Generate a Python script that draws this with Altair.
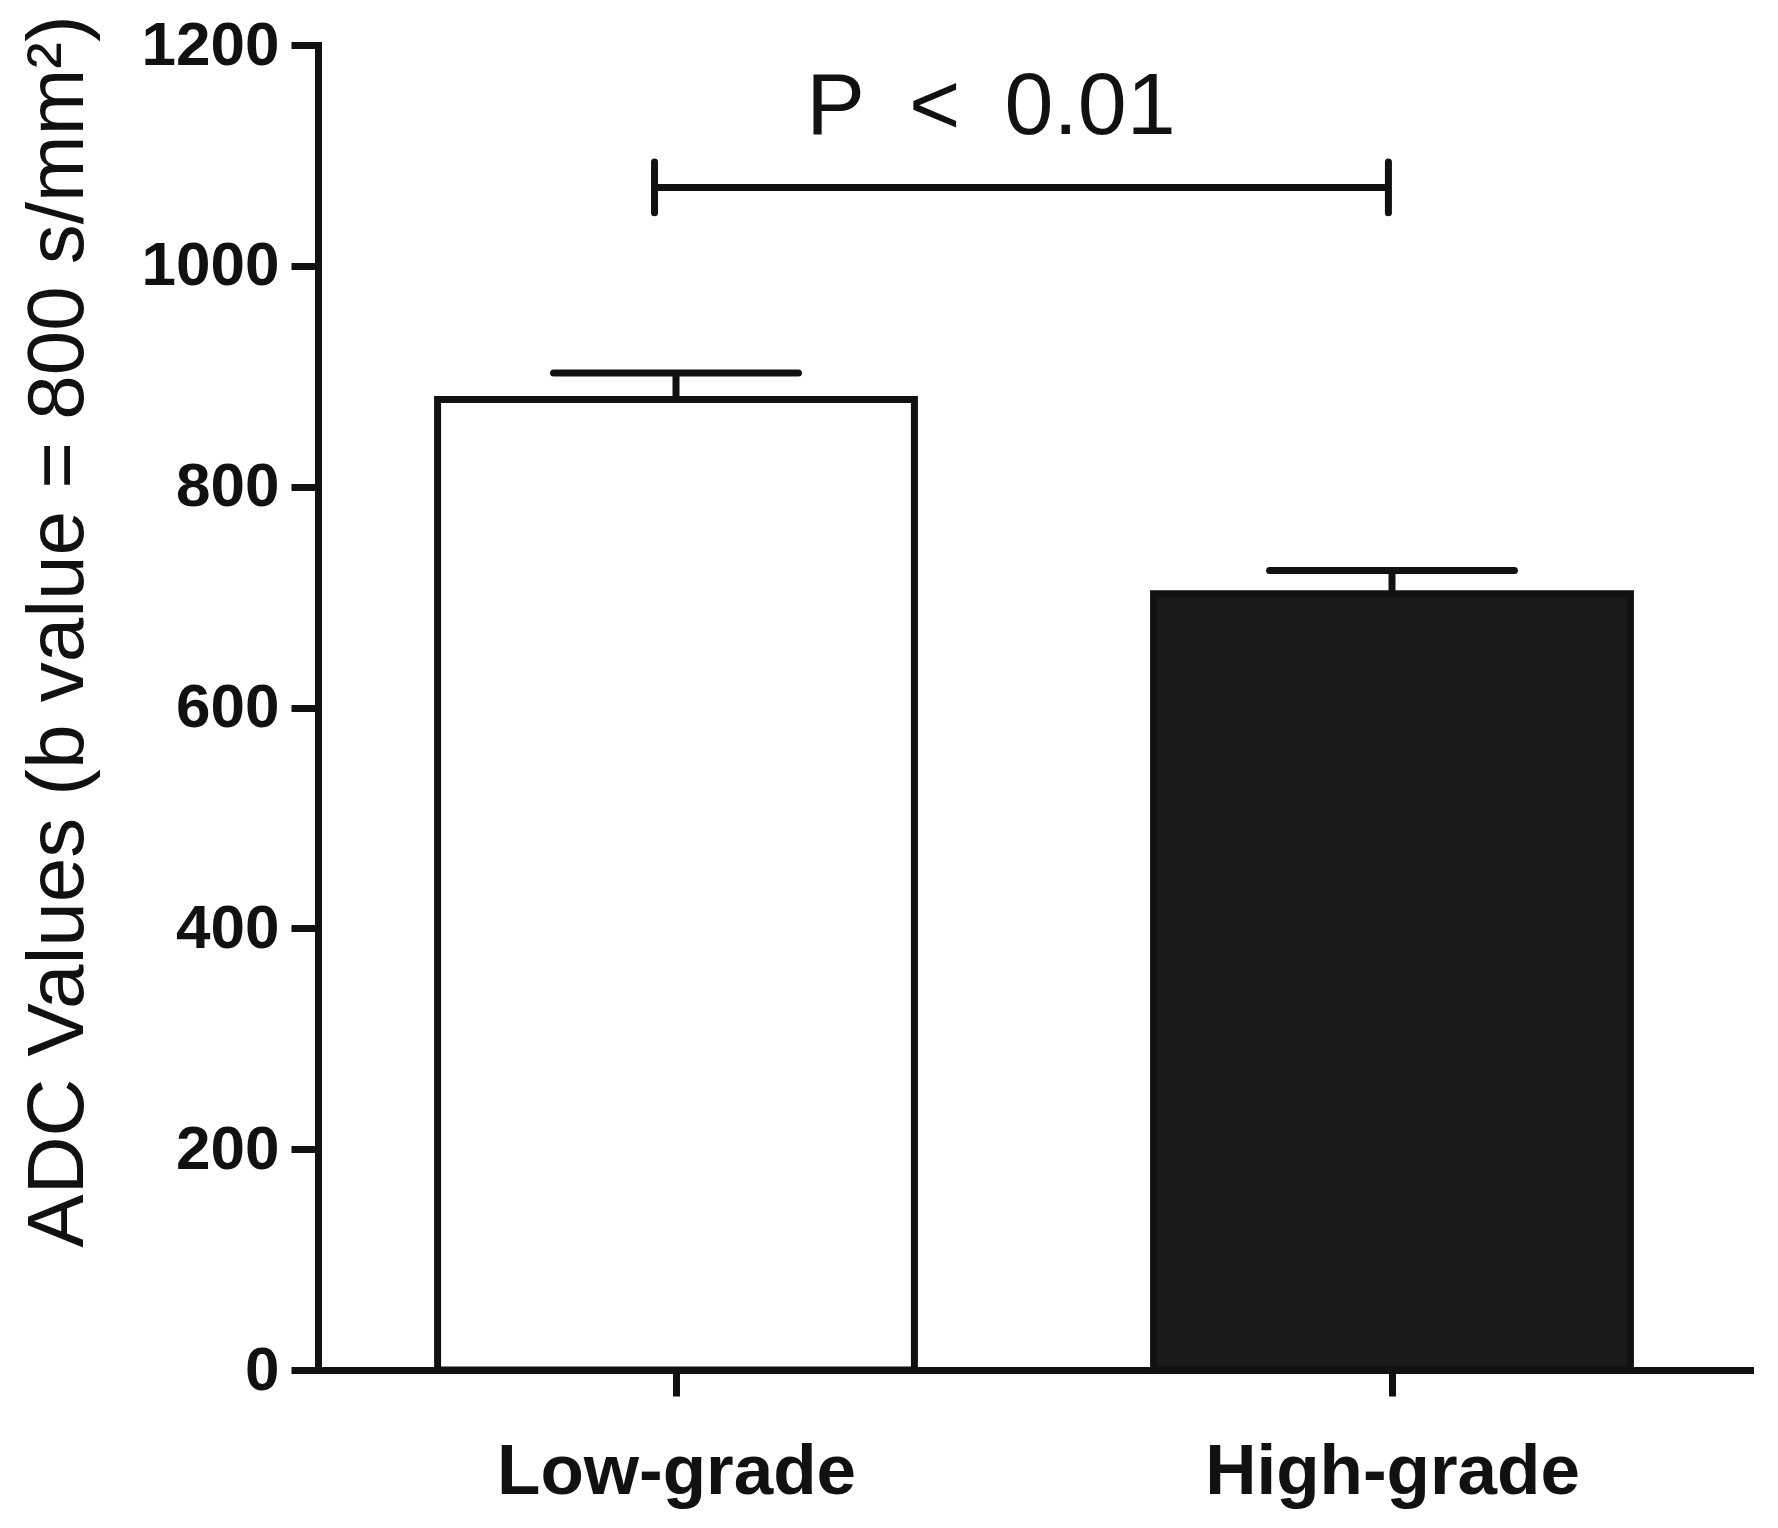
import json
import altair as alt
import pandas as pd

# ---- data ----
groups = ["Low-grade", "High-grade"]
means = [879, 703]
sems = [24, 21]
fills = ["#ffffff", "#1b1a1a"]

p_label = "P\u2002<\u20020.01"
bracket_y = [1071]
bracket_cap_low = [1048]
bracket_cap_high = [1094]
bracket_x_start = [0.97]
bracket_x_end = [1.995]
p_text_x = [1.44]
p_text_y = [1119]

y_ticks = [0, 200, 400, 600, 800, 1000, 1200]
y_title = "ADC Values (b value = 800 s/mm²)"

FONT = "Liberation Sans"
BAR_HALF = 0.333
CAP_HALF = 0.171
LW = 7

df = pd.DataFrame({"group": groups, "mean": means, "sem": sems})
order_expr = f"indexof({json.dumps(groups)}, datum.group) + 1"

xscale = alt.Scale(domain=[0.5, 2.5], nice=False, zero=False)
yscale = alt.Scale(domain=[0, 1200], nice=False)

base = alt.Chart(df).transform_calculate(
    pos=order_expr
).transform_calculate(
    x0=f"datum.pos - {BAR_HALF}",
    x1=f"datum.pos + {BAR_HALF}",
    c0=f"datum.pos - {CAP_HALF}",
    c1=f"datum.pos + {CAP_HALF}",
    top="datum.mean + datum.sem",
)

x_axis = alt.Axis(
    values=[1, 2],
    labelExpr=f"{json.dumps(groups)}[datum.value - 1]",
    labelFont=FONT, labelFontSize=71, labelFontWeight="bold", labelColor="#111111",
    labelBaseline="alphabetic", labelPadding=97, labelLimit=0,
    tickSize=26, tickWidth=LW, tickColor="#111111",
    domainColor="#111111", domainWidth=LW, domainCap="square",
    grid=False, title=None,
)
y_axis = alt.Axis(
    values=y_ticks, format="d",
    labelFont=FONT, labelFontSize=62, labelFontWeight="bold", labelColor="#111111",
    labelPadding=12, labelLimit=0,
    tickSize=27, tickWidth=LW, tickColor="#111111",
    domainColor="#111111", domainWidth=LW, domainCap="square",
    grid=False,
    title=y_title, titleFont=FONT, titleFontSize=80, titleFontWeight="normal",
    titleColor="#111111", titleAngle=270, titleBaseline="alphabetic",
    titleAlign="center", titleX=-236, titleY=586, titleLimit=0,
)

bars = base.mark_bar(stroke="#111111", strokeWidth=LW).encode(
    x=alt.X("x0:Q", scale=xscale, axis=x_axis),
    x2="x1:Q",
    y=alt.Y("mean:Q", scale=yscale, axis=y_axis),
    y2=alt.datum(0),
    fill=alt.Fill("group:N", scale=alt.Scale(domain=groups, range=fills), legend=None),
)

err = base.mark_rule(color="#111111", strokeWidth=LW).encode(
    x="pos:Q", y="mean:Q", y2="top:Q"
)
caps = base.mark_rule(color="#111111", strokeWidth=LW, strokeCap="round").encode(
    x="c0:Q", x2="c1:Q", y="top:Q"
)

sig = pd.DataFrame({
    "x0": bracket_x_start, "x1": bracket_x_end, "y": bracket_y,
    "lo": bracket_cap_low, "hi": bracket_cap_high,
    "tx": p_text_x, "ty": p_text_y, "label": [p_label],
})
sig_base = alt.Chart(sig)
bracket = sig_base.mark_rule(color="#111111", strokeWidth=LW).encode(
    x="x0:Q", x2="x1:Q", y="y:Q"
)
cap_l = sig_base.mark_rule(color="#111111", strokeWidth=LW, strokeCap="round").encode(
    x="x0:Q", y="lo:Q", y2="hi:Q"
)
cap_r = sig_base.mark_rule(color="#111111", strokeWidth=LW, strokeCap="round").encode(
    x="x1:Q", y="lo:Q", y2="hi:Q"
)
ptext = sig_base.mark_text(
    font=FONT, fontSize=88, color="#111111", align="center", baseline="alphabetic"
).encode(x="tx:Q", y="ty:Q", text="label:N")

chart = alt.layer(bars, err, caps, bracket, cap_l, cap_r, ptext).properties(
    width=1432, height=1325,
    autosize=alt.AutoSizeParams(type="none"),
    padding={"left": 310, "top": 37, "right": 20, "bottom": 150},
    background="white",
).configure_view(stroke=None)

chart.save("out.html", embed_options={"renderer": "svg", "actions": False})
